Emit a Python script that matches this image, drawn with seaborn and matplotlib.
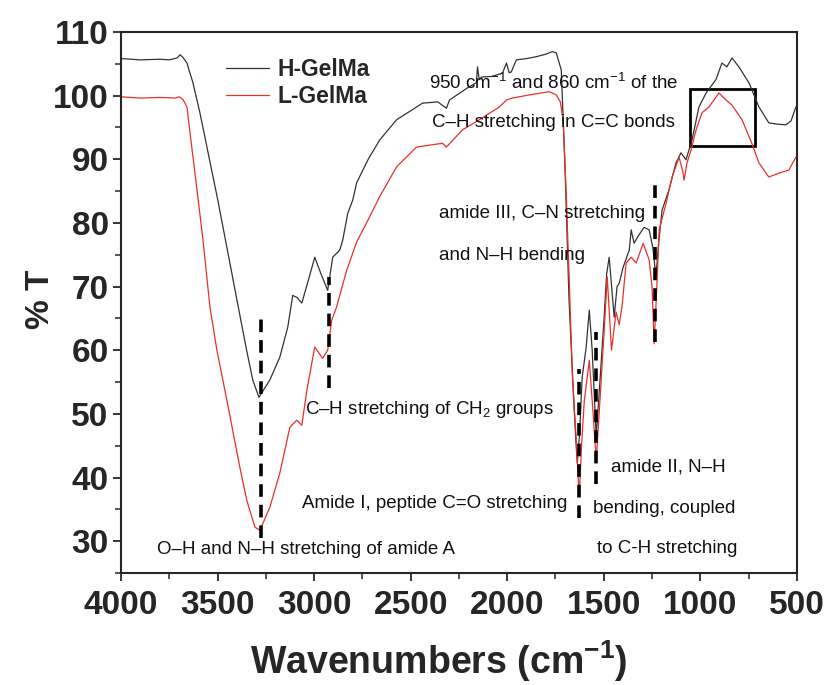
import numpy as np
import pandas as pd
import matplotlib
matplotlib.use("Agg")
import matplotlib.pyplot as plt
import matplotlib.patches as patches
from matplotlib.ticker import MultipleLocator
import seaborn as sns

# -----------------------------
# Data
# -----------------------------
h_wn = [4000, 3900, 3800, 3750, 3710, 3695, 3680, 3659, 3628, 3592, 3500, 3385, 3350,
        3318, 3286, 3230, 3178, 3137, 3111, 3090, 3064, 3030, 2997, 2965, 2930, 2904,
        2868, 2852, 2826, 2800, 2780, 2720, 2661, 2573, 2500, 2439, 2360, 2315, 2299,
        2250, 2196, 2160, 2154, 2145, 2134, 2080, 2025, 2004, 1990, 1979, 1953, 1900,
        1849, 1800, 1767, 1746, 1720, 1700, 1680, 1660, 1645, 1637, 1625, 1612, 1591,
        1575, 1560, 1539, 1520, 1498, 1485, 1472, 1446, 1431, 1420, 1400, 1368, 1358,
        1343, 1320, 1291, 1265, 1245, 1230, 1215, 1198, 1162, 1126, 1100, 1074, 1043,
        1007, 970, 919, 888, 862, 836, 800, 748, 696, 645, 600, 557, 530, 505]
h_T = [105.8, 105.6, 105.7, 105.6, 105.9, 106.4, 106.0, 105.1, 102.0, 97.3, 83.7, 65.5, 60.0,
       55.3, 52.6, 55.3, 58.9, 63.6, 68.6, 68.3, 67.4, 71.0, 74.6, 72.0, 69.4, 74.6,
       75.7, 77.3, 81.5, 83.6, 86.3, 90.0, 93.0, 96.2, 97.6, 98.8, 99.0, 98.0, 99.3,
       100.3, 101.4, 102.0, 104.5, 102.5, 102.9, 103.0, 103.5, 105.1, 103.6, 103.7, 105.6, 105.8,
       106.1, 106.5, 106.9, 106.7, 104.0, 88.0, 68.0, 55.0, 46.0, 42.2, 47.0, 55.7, 60.5,
       66.3, 60.0, 46.5, 55.0, 65.2, 72.0, 74.6, 65.2, 70.0, 70.5, 73.0, 75.7, 78.9,
       76.8, 78.0, 79.3, 78.9, 76.0, 71.5, 77.0, 82.0, 85.2, 89.4, 91.0, 89.9, 93.0,
       98.2, 100.4, 102.5, 105.1, 104.5, 105.9, 104.5, 102.0, 98.2, 95.7, 95.5, 95.4, 96.0, 98.2]

l_wn = [4000, 3900, 3800, 3720, 3700, 3680, 3659, 3643, 3607, 3576, 3540, 3504, 3452,
        3385, 3349, 3307, 3281, 3230, 3178, 3126, 3090, 3064, 3038, 2997, 2956, 2930,
        2909, 2884, 2832, 2780, 2720, 2661, 2573, 2470, 2335, 2315, 2232, 2144, 2041,
        2004, 1973, 1885, 1782, 1746, 1725, 1710, 1695, 1680, 1663, 1653, 1643, 1627,
        1615, 1601, 1575, 1555, 1539, 1520, 1498, 1482, 1460, 1436, 1420, 1405, 1384,
        1358, 1332, 1296, 1265, 1250, 1239, 1225, 1213, 1177, 1146, 1110, 1090, 1084,
        1069, 1048, 1022, 991, 955, 929, 903, 867, 836, 784, 733, 696, 645, 593, 541, 505]
l_T = [99.8, 99.6, 99.7, 99.6, 99.8, 99.4, 98.2, 94.1, 85.2, 77.3, 66.8, 60.0, 52.1,
       41.6, 36.4, 32.2, 31.7, 35.3, 40.7, 47.9, 49.0, 48.2, 53.7, 60.5, 58.7, 60.0,
       64.7, 66.8, 72.5, 77.0, 80.5, 84.1, 88.8, 91.9, 92.5, 91.9, 94.6, 96.2, 98.2,
       99.3, 99.6, 100.1, 100.6, 100.1, 99.0, 96.0, 85.0, 72.0, 56.4, 51.0, 46.3, 36.9,
       45.0, 52.0, 58.4, 50.0, 42.7, 52.0, 63.0, 71.5, 60.0, 66.0, 64.0, 67.0, 73.7,
       74.6, 73.7, 76.8, 74.2, 70.0, 61.0, 70.0, 78.9, 83.1, 87.2, 90.3, 88.0, 86.7,
       89.4, 91.4, 94.6, 97.3, 98.2, 99.3, 100.4, 99.3, 98.5, 96.2, 92.5, 89.4, 87.2, 87.8, 88.3, 90.3]

# peak markers: wavenumber, bottom and top of each dashed line
marker_wn = [3276, 2925, 1627, 1539, 1234]
marker_lo = [30.5, 54.0, 33.6, 39.0, 61.3]
marker_hi = [65.5, 71.5, 57.0, 62.8, 86.0]

# annotation labels: (text, wavenumber, %T)
notes = [
    ("950 cm$^{-1}$ and 860 cm$^{-1}$ of the", 2403, 102.1),
    ("C\u2013H stretching in C=C bonds", 2392, 95.7),
    ("amide III, C\u2013N stretching", 2351, 81.4),
    ("and N\u2013H bending", 2351, 74.9),
    ("C\u2013H stretching of CH$_2$ groups", 3049, 50.7),
    ("Amide I, peptide C=O stretching", 3064, 35.9),
    ("amide II, N\u2013H", 1462, 41.6),
    ("bending, coupled", 1555, 35.2),
    ("to C-H stretching", 1534, 28.9),
    ("O\u2013H and N\u2013H stretching of amide A", 3814, 28.7),
]

df = pd.concat([
    pd.DataFrame({"wn": h_wn, "T": h_T, "sample": "H-GelMa"}),
    pd.DataFrame({"wn": l_wn, "T": l_T, "sample": "L-GelMa"}),
])

# -----------------------------
# Plot
# -----------------------------
sns.set_style("ticks")
plt.rcParams["font.family"] = ["Liberation Sans", "DejaVu Sans"]
plt.rcParams["mathtext.fontset"] = "custom"
plt.rcParams["mathtext.rm"] = "Liberation Sans"
plt.rcParams["mathtext.bf"] = "Liberation Sans:bold"

fig = plt.figure(figsize=(8.24, 6.85), dpi=100)
ax = fig.add_axes([0.147, 0.1635, 0.82, 0.79])

sns.lineplot(data=df, x="wn", y="T", hue="sample", sort=False, estimator=None,
             palette={"H-GelMa": "#333333", "L-GelMa": "#e8302a"},
             linewidth=0.9, ax=ax)

for x, lo, hi in zip(marker_wn, marker_lo, marker_hi):
    ax.plot([x, x], [lo, hi], color="black", lw=2.6, ls=(0, (3.5, 2.2)))

ax.add_patch(patches.Rectangle((717, 92.1), 1053 - 717, 101 - 92.1,
                               fill=False, edgecolor="black", lw=2))

for txt, x, y in notes:
    ax.text(x, y, txt, fontsize=13.5, color="#111111", ha="left", va="center")

ax.set_xlim(4000, 500)
ax.set_ylim(25, 110)
ax.xaxis.set_major_locator(MultipleLocator(500))
ax.xaxis.set_minor_locator(MultipleLocator(250))
ax.yaxis.set_major_locator(MultipleLocator(10))
ax.yaxis.set_minor_locator(MultipleLocator(5))
ax.set_yticks(range(30, 111, 10))
ax.tick_params(axis="both", which="major", direction="out", length=6, width=1.3,
               labelsize=24)
ax.tick_params(axis="x", which="major", pad=6)
ax.tick_params(axis="y", which="major", pad=3)
ax.tick_params(axis="both", which="minor", direction="out", length=4, width=1.1)
for lab in ax.get_xticklabels() + ax.get_yticklabels():
    lab.set_fontweight("bold")
for sp in ax.spines.values():
    sp.set_linewidth(1.5)
    sp.set_visible(True)

ax.set_xlabel("Wavenumbers (cm$^{\\mathbf{-1}}$)", fontsize=27, fontweight="bold")
ax.set_ylabel("% T", fontsize=24, fontweight="bold")
ax.xaxis.set_label_coords(0.47, -0.12)
ax.yaxis.set_label_coords(-0.097, 0.505)

leg = ax.legend(loc="upper left", bbox_to_anchor=(0.124, 0.99), frameon=False,
                handlelength=1.9, handletextpad=0.35, labelspacing=0.2,
                prop={"weight": "bold", "size": 16.5})

fig.savefig("out.png", dpi=100)
